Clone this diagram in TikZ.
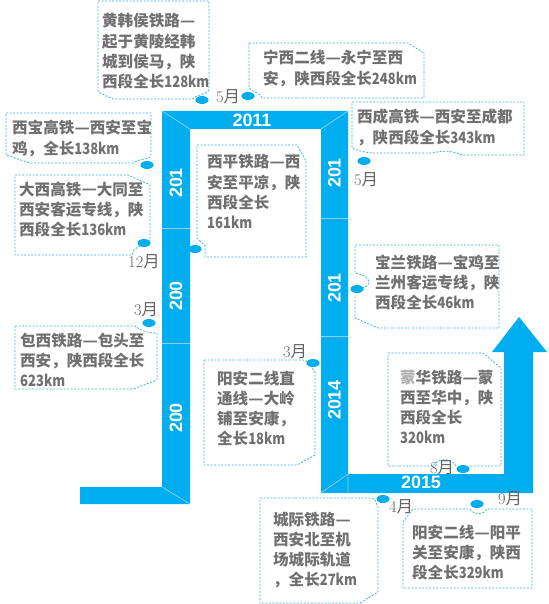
\documentclass[tikz,border=0pt]{standalone}
\usepackage{fontspec}
\usepackage{graphicx}
\usetikzlibrary{shapes.geometric}
\newfontfamily\cjk{Noto Sans CJK SC}
\newfontfamily\barfont{Liberation Sans}
\newcommand\cdash{\makebox[1em][c]{\resizebox{0.98em}{\height}{—}}}
\newcommand\lat[1]{\scalebox{0.84}[1]{#1}}
\definecolor{barblue}{RGB}{0,174,239}
\definecolor{dashblue}{RGB}{60,178,230}
\definecolor{txtgray}{RGB}{112,112,112}
\definecolor{mongray}{RGB}{100,100,100}
\definecolor{divcol}{RGB}{140,205,240}
\definecolor{paleg}{RGB}{175,175,175}
\begin{document}
\begin{tikzpicture}[x=1bp,y=-1bp,
  cbox/.style={draw=dashblue, dash pattern=on 2bp off 1.5bp, line width=0.8bp},
  ctext/.style={anchor=base west, inner sep=0, text width=200bp, align=left, text=txtgray,
     font=\cjk\bfseries\fontsize{15.6}{20.4}\selectfont},
  mon/.style={inner sep=0, text=mongray, font=\fontsize{16.5}{16.5}\selectfont},
  yr/.style={inner sep=0, text=white, font=\barfont\bfseries\fontsize{18}{18}\selectfont},
  yrv/.style={yr, rotate=90},
  dot/.style={fill=barblue, draw=none, ellipse, minimum width=13bp, minimum height=8bp, inner sep=0},
  div/.style={draw=divcol, line width=0.7bp}]
\useasboundingbox (0,0) rectangle (549,604);
% ---------- band ----------
\fill[barblue] (80,487) -- (162,487) -- (162,111) -- (348,111) -- (348,474) -- (504,474)
  -- (504,352) -- (492,352) -- (519,317) -- (547,352) -- (533,352) -- (533,493)
  -- (321,493) -- (321,129) -- (190,129) -- (190,504) -- (80,504) -- cycle;
\draw[div] (162,111) -- (190,129);
\draw[div] (162,487) -- (190,504);
\draw[div] (321,129) -- (348,111);
\draw[div] (321,493) -- (348,474) -- (348,493);
\draw[div] (162,228) -- (190,228);
\draw[div] (162,343) -- (190,343);
\draw[div] (321,218) -- (348,218);
\draw[div] (321,336) -- (348,336);
% ---------- years ----------
\node[yr] (y2011) at (252,120) {2011};
\node[yrv] (l1) at (176,183) {201};
\node[yrv] (l2) at (176,296) {200};
\node[yrv] (l3) at (176,418) {200};
\node[yrv] (r1) at (334.5,173) {201};
\node[yrv] (r2) at (334.5,288) {201};
\node[yrv] (r3) at (334.5,400) {2014};
\node[yr] (y2015) at (421,482) {2015};
% ---------- callout outlines ----------
\draw[cbox] (98,1) -- (209,1) -- (209,88) .. controls (209,95) and (200,93) .. (192,99) -- (113,99) -- (98,92) -- cycle;
\draw[cbox] (249,43) -- (408,43) -- (424,53) -- (424,98) -- (262,98) .. controls (260,92) and (252,92) .. (249,88) -- cycle;
\draw[cbox] (352,102) -- (524,102) -- (524,155) -- (462,155) .. controls (452,151) and (445,150) .. (432,153) -- (372,153) .. controls (362,152) and (356,150) .. (352,148) -- cycle;
\draw[cbox] (6,113) -- (151,113) -- (151,155) .. controls (151,160) and (140,158) .. (133,163) -- (30,163) -- (6,155) -- cycle;
\draw[cbox] (15,175) -- (128,175) -- (150,185) -- (150,238) .. controls (148,245) and (138,245) .. (134,250) -- (132,255) -- (15,255) -- cycle;
\draw[cbox] (15,326) -- (135,326) .. controls (140,330) and (146,333) .. (157,333) -- (157,380) -- (133,389) -- (15,389) -- cycle;
\draw[cbox] (197,145) -- (297,145) -- (306,161) -- (306,257) -- (205,257) -- (205,246) -- (197,238) -- cycle;
\draw[cbox] (362,288) .. controls (372,286) and (372,276) .. (355,273) -- (355,245) -- (499,245) -- (499,328) -- (378,328) -- (355,318) -- (355,296);
\draw[cbox] (204,360) -- (303,360) .. controls (308,360) and (310,366) .. (315,372) -- (315,455) -- (297,465) -- (204,465) -- cycle;
\draw[cbox] (456,466) .. controls (452,458) and (438,457) .. (433,466) -- (388,466) -- (388,353) -- (483,353) -- (501,368) -- (501,466) -- (469,466);
\draw[cbox] (260,498) -- (372,498) .. controls (376,498) and (376,504) .. (378,507) -- (378,592) -- (360,603) -- (260,603) -- cycle;
\draw[cbox] (403,522) -- (413,509) -- (470,509) .. controls (473,515) and (484,515) .. (487,509) -- (532,509) -- (532,588) -- (403,588) -- cycle;
% ---------- callout texts ----------
\node[ctext] (t1) at (102,27) {黄韩侯铁路\cdash\\起于黄陵经韩\\城到侯马，陕\\西段全长\lat{128km}};
\node[ctext] (t2) at (263,64) {宁西二线\cdash 永宁至西\\安，陕西段全长\lat{248km}};
\node[ctext] (t3) at (357,123) {西成高铁\cdash 西安至成都\\，陕西段全长\lat{343km}};
\node[ctext] (t4) at (12,134) {西宝高铁\cdash 西安至宝\\鸡，全长\lat{138km}};
\node[ctext] (t5) at (19,195) {大西高铁\cdash 大同至\\西安客运专线，陕\\西段全长\lat{136km}};
\node[ctext] (t6) at (20,346) {包西铁路\cdash 包头至\\西安，陕西段全长\\\lat{623km}};
\node[ctext] (t7) at (207,168) {西平铁路\cdash 西\\安至平凉，陕\\西段全长\\\lat{161km}};
\node[ctext] (t8) at (375,268) {宝兰铁路\cdash 宝鸡至\\兰州客运专线，陕\\西段全长\lat{46km}};
\node[ctext] (t9) at (217,384) {阳安二线直\\通线\cdash 大岭\\铺至安康，\\全长\lat{18km}};
\node[ctext] (t10) at (400,383) {{\color{paleg}蒙}华铁路\cdash 蒙\\西至华中，陕\\西段全长\\\lat{320km}};
\node[ctext] (t11) at (273,525) {城际铁路\cdash\\西安北至机\\场城际轨道\\，全长\lat{27km}};
\node[ctext] (t12) at (412,538) {阳安二线\cdash 阳平\\关至安康，陕西\\段全长\lat{329km}};
% ---------- dots ----------
\node[dot] (d1) at (202,100) {};
\node[dot] (d2) at (248,96) {};
\node[dot] (d3) at (364,161) {};
\node[dot] (d4) at (147,165) {};
\node[dot] (d5) at (144,243) {};
\node[dot] (d6) at (149,323) {};
\node[dot] (d7) at (195,249) {};
\node[dot] (d8) at (357,289) {};
\node[dot] (d9) at (313,363) {};
\node[dot] (d10) at (463,469) {};
\node[dot] (d11) at (383,499) {};
\node[dot] (d12) at (477,504) {};
% ---------- months ----------
\node[mon] (m1) at (228,97) {5{\cjk 月}};
\node[mon] (m2) at (366,180) {5{\cjk 月}};
\node[mon] (m3) at (144,262) {12{\cjk 月}};
\node[mon] (m4) at (146,310) {3{\cjk 月}};
\node[mon] (m5) at (295,352) {3{\cjk 月}};
\node[mon] (m6) at (442,468) {8{\cjk 月}};
\node[mon] (m7) at (401,507) {4{\cjk 月}};
\node[mon] (m8) at (510,499) {9{\cjk 月}};
\end{tikzpicture}
\end{document}
